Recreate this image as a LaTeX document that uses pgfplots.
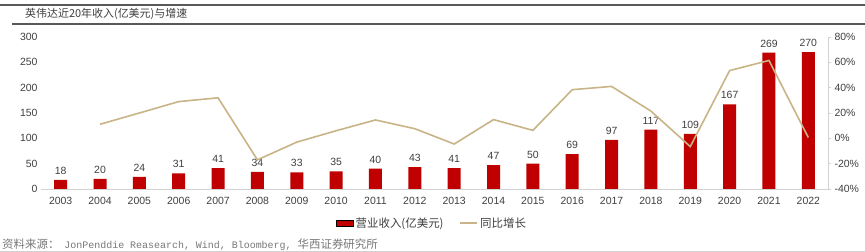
\documentclass[border=0pt]{standalone}
\usepackage{pgfplots}
\pgfplotsset{compat=1.18}
\usepackage{fontspec}
\setmainfont{Liberation Sans}
\setmonofont{Liberation Mono}
\newfontfamily\cjk{Noto Sans CJK SC}
\definecolor{barred}{RGB}{192,0,0}
\definecolor{linetan}{RGB}{201,180,135}
\definecolor{txt}{RGB}{64,64,64}
\definecolor{axgray}{RGB}{210,210,210}
\definecolor{rulegray}{RGB}{89,89,89}
\definecolor{srcgray}{RGB}{120,120,120}
\begin{document}
\begin{tikzpicture}
\useasboundingbox (0,0) rectangle (865bp,252bp);
\fill[white] (0,0) rectangle (865bp,252bp);
\draw[line width=2bp, rulegray] (0,247bp) -- (865bp,247bp);
\draw[line width=2bp, rulegray] (12bp,228bp) -- (865bp,228bp);
\draw[line width=1bp, axgray] (0,1bp) -- (865bp,1bp);
\node[anchor=west, inner sep=0, text=txt, font=\cjk\fontsize{11}{13}\selectfont] at (25bp,238bp) {英伟达近20年收入(亿美元)与增速};
\node[anchor=west, inner sep=0, text=srcgray] at (2bp,7bp) {{\cjk\fontsize{11.5}{13}\selectfont 资料来源：}\hspace{5bp}{\ttfamily\fontsize{10}{11}\selectfont JonPenddie Reasearch, Wind, Bloomberg, }{\cjk\fontsize{11.5}{13}\selectfont 华西证券研究所}};
\begin{axis}[
  at={(41bp,63bp)}, anchor=south west,
  scale only axis, width=787bp, height=152bp,
  xmin=-0.5, xmax=19.5, ymin=0, ymax=300,
  ytick={0,50,...,300},
  xtick={0,...,19},
  xticklabels={2003,2004,2005,2006,2007,2008,2009,2010,2011,2012,2013,2014,2015,2016,2017,2018,2019,2020,2021,2022},
  axis x line*=bottom, axis y line*=left,
  x axis line style={draw=axgray, line width=0.8bp, -},
  y axis line style={draw=none},
  major tick length=0pt,
  tick style={draw=none},
  ybar, bar width=13bp,
  clip=false,
  nodes near coords,
  nodes near coords style={font=\fontsize{10.5}{12}\selectfont, text=txt, yshift=2bp},
  every tick label/.append style={font=\fontsize{10.5}{12}\selectfont, text=txt},
  xticklabel style={yshift=-5bp},
  /pgf/number format/assume math mode=true,
]
\addplot[fill=barred, draw=none] coordinates {
(0,18) (1,20) (2,24) (3,31) (4,41) (5,34) (6,33) (7,35) (8,40) (9,43)
(10,41) (11,47) (12,50) (13,69) (14,97) (15,117) (16,109) (17,167) (18,269) (19,270)};
\end{axis}
\begin{axis}[
  at={(41bp,63bp)}, anchor=south west,
  scale only axis, width=787bp, height=152bp,
  xmin=-0.5, xmax=19.5, ymin=-40, ymax=80,
  ytick={-40,-20,...,80},
  axis y line*=right, axis x line=none,
  y axis line style={draw=axgray, line width=0.8bp, -},
  tick align=outside, major tick length=3bp,
  ytick style={draw=axgray, line width=0.8bp},
  yticklabel={\pgfmathprintnumber{\tick}\%},
  yticklabel style={font=\fontsize{10.5}{12}\selectfont, text=txt},
  /pgf/number format/assume math mode=true,
  clip=false,
  legend style={at={(0.497,-0.224)}, anchor=center, draw=none, fill=none,
    legend columns=2, font=\cjk\fontsize{11.5}{13}\selectfont, text=txt,
    /tikz/every even column/.append style={column sep=14bp}},
]
\addlegendimage{area legend, fill=barred, draw=none}
\addlegendentry{营业收入(亿美元)}
\addplot[color=linetan, line width=1.6bp, mark=none] coordinates {
(1,11.1) (2,20) (3,29) (4,32) (5,-17) (6,-3) (7,6) (8,14.5) (9,7.6) (10,-4.5)
(11,14.8) (12,6.3) (13,38.4) (14,41) (15,21.5) (16,-6.5) (17,53.5) (18,61.5) (19,0.6)};
\addlegendentry{同比增长}
\end{axis}
\end{tikzpicture}
\end{document}
